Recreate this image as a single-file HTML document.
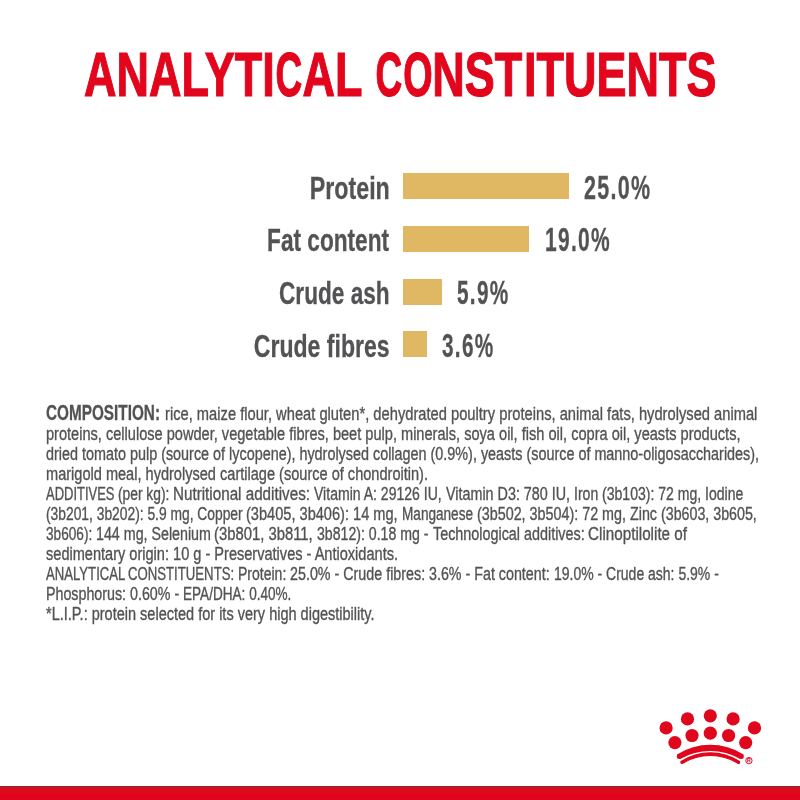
<!DOCTYPE html>
<html lang="en"><head><meta charset="utf-8"><title>Analytical Constituents</title>
<style>
html,body{margin:0;padding:0;background:#fff;}
body{width:800px;height:800px;position:relative;overflow:hidden;font-family:"Liberation Sans",Arial,Helvetica,sans-serif;}
.t{position:absolute;white-space:pre;line-height:1;display:block;margin:0;padding:0;}
.n{display:inline-block;}
.l{transform-origin:0 0;}
.r{transform-origin:100% 0;}
.bar{position:absolute;background:#e0b864;height:26px;left:403px;}
.foot{position:absolute;left:0;top:786px;width:800px;height:14px;background:#e2051c linear-gradient(to bottom,#93202a 0,#93202a 1px,#c01a28 1px,#c01a28 2px,#dc0a1c 2px,#dc0a1c 7px,#e0031f 9px,#e0031f 14px);}
</style></head><body>
<h1 id="t0" class="t l" style="font-size:63px;font-weight:700;color:#e2051c;top:42.97px;left:84.3px;transform:scaleX(0.7141);-webkit-text-stroke:1.2px #e2051c;word-spacing:1.5px;">ANALYTI<span class="n" style="transform:scaleX(.82);margin:0 -3.4px">C</span>AL <span class="n" style="transform:scaleX(.82);margin:0 -3.4px">C</span><span class="n" style="transform:scaleX(.84);margin:0 -3.9px">O</span>NS<span style="letter-spacing:2.5px">T</span>ITUENTS</h1>
<div id="t1" class="t r" style="font-size:31px;font-weight:700;color:#535355;top:172.76px;right:410.7px;transform:scaleX(0.7491);-webkit-text-stroke:0.3px #535355;">Protein</div>
<div id="t2" class="t l" style="font-size:32.3px;font-weight:700;color:#535355;top:171.56px;left:583.8px;transform:scaleX(0.6648);-webkit-text-stroke:0.3px #535355;letter-spacing:2px;">25.0%</div>
<div id="t3" class="t r" style="font-size:31px;font-weight:700;color:#535355;top:225.46px;right:410.7px;transform:scaleX(0.7303);-webkit-text-stroke:0.3px #535355;">Fat content</div>
<div id="t4" class="t l" style="font-size:32.3px;font-weight:700;color:#535355;top:224.26px;left:545.3px;transform:scaleX(0.6497);-webkit-text-stroke:0.3px #535355;letter-spacing:2px;">19.0%</div>
<div id="t5" class="t r" style="font-size:31px;font-weight:700;color:#535355;top:278.11px;right:410.7px;transform:scaleX(0.7295);-webkit-text-stroke:0.3px #535355;">Crude ash</div>
<div id="t6" class="t l" style="font-size:32.3px;font-weight:700;color:#535355;top:276.91px;left:457.3px;transform:scaleX(0.6430);-webkit-text-stroke:0.3px #535355;letter-spacing:2px;">5.9%</div>
<div id="t7" class="t r" style="font-size:31px;font-weight:700;color:#535355;top:330.76px;right:410.7px;transform:scaleX(0.7434);-webkit-text-stroke:0.3px #535355;">Crude fibres</div>
<div id="t8" class="t l" style="font-size:32.3px;font-weight:700;color:#535355;top:329.56px;left:441.8px;transform:scaleX(0.6430);-webkit-text-stroke:0.3px #535355;letter-spacing:2px;">3.6%</div>
<div id="t9" class="t l" style="font-size:21.5px;font-weight:700;color:#535355;top:402.90px;left:45.5px;transform:scaleX(0.7122);-webkit-text-stroke:0.3px #535355;">COMPOSITION:</div>
<div id="t10" class="t l" style="font-size:18.3px;font-weight:400;color:#535355;top:404.81px;left:164.6px;transform:scaleX(0.8041);-webkit-text-stroke:0.35px #535355;">rice, maize flour, wheat gluten*, dehydrated poultry proteins, animal fats, hydrolysed animal</div>
<div id="t11" class="t l" style="font-size:18.3px;font-weight:400;color:#535355;top:425.11px;left:45.5px;transform:scaleX(0.7975);-webkit-text-stroke:0.35px #535355;">proteins, cellulose powder, vegetable fibres, beet pulp, minerals, soya oil, fish oil, copra oil, yeasts products,</div>
<div id="t12" class="t l" style="font-size:18.3px;font-weight:400;color:#535355;top:445.01px;left:45.5px;transform:scaleX(0.7867);-webkit-text-stroke:0.35px #535355;">dried tomato pulp (source of lycopene), hydrolysed collagen (0.9%), yeasts (source of manno-oligosaccharides),</div>
<div id="t13" class="t l" style="font-size:18.3px;font-weight:400;color:#535355;top:465.01px;left:45.5px;transform:scaleX(0.7965);-webkit-text-stroke:0.35px #535355;">marigold meal, hydrolysed cartilage (source of chondroitin).</div>
<div id="t14" class="t l" style="font-size:18.3px;font-weight:400;color:#535355;top:485.01px;left:45.5px;transform:scaleX(0.7097);-webkit-text-stroke:0.35px #535355;">ADDITIVES </div>
<div id="t15" class="t l" style="font-size:18.3px;font-weight:400;color:#535355;top:485.01px;left:117.6px;transform:scaleX(0.7545);-webkit-text-stroke:0.35px #535355;">(per kg): </div>
<div id="t16" class="t l" style="font-size:18.3px;font-weight:400;color:#535355;top:485.01px;left:172.8px;transform:scaleX(0.8320);-webkit-text-stroke:0.35px #535355;">Nutritional additives: </div>
<div id="t17" class="t l" style="font-size:18.3px;font-weight:400;color:#535355;top:485.01px;left:314px;transform:scaleX(0.7678);-webkit-text-stroke:0.35px #535355;">Vitamin A: 29126 IU, </div>
<div id="t18" class="t l" style="font-size:18.3px;font-weight:400;color:#535355;top:485.01px;left:445.6px;transform:scaleX(0.7846);-webkit-text-stroke:0.35px #535355;">Vitamin D3: 780 IU, </div>
<div id="t19" class="t l" style="font-size:18.3px;font-weight:400;color:#535355;top:485.01px;left:573.7px;transform:scaleX(0.7677);-webkit-text-stroke:0.35px #535355;">Iron (3b103): 72 mg, Iodine</div>
<div id="t20" class="t l" style="font-size:18.3px;font-weight:400;color:#535355;top:504.91px;left:45.5px;transform:scaleX(0.7559);-webkit-text-stroke:0.35px #535355;">(3b201, 3b202): 5.9 mg, Copper </div>
<div id="t21" class="t l" style="font-size:18.3px;font-weight:400;color:#535355;top:504.91px;left:246px;transform:scaleX(0.7979);-webkit-text-stroke:0.35px #535355;">(3b405, 3b406): 14 mg, </div>
<div id="t22" class="t l" style="font-size:18.3px;font-weight:400;color:#535355;top:504.91px;left:401.7px;transform:scaleX(0.7434);-webkit-text-stroke:0.35px #535355;">Manganese </div>
<div id="t23" class="t l" style="font-size:18.3px;font-weight:400;color:#535355;top:504.91px;left:476.5px;transform:scaleX(0.7838);-webkit-text-stroke:0.35px #535355;">(3b502, 3b504): 72 mg, Zinc </div>
<div id="t24" class="t l" style="font-size:18.3px;font-weight:400;color:#535355;top:504.91px;left:660.5px;transform:scaleX(0.7789);-webkit-text-stroke:0.35px #535355;">(3b603, 3b605,</div>
<div id="t25" class="t l" style="font-size:18.3px;font-weight:400;color:#535355;top:524.91px;left:45.5px;transform:scaleX(0.7452);-webkit-text-stroke:0.35px #535355;">3b606): </div>
<div id="t26" class="t l" style="font-size:18.3px;font-weight:400;color:#535355;top:524.91px;left:95.5px;transform:scaleX(0.7800);-webkit-text-stroke:0.35px #535355;">144 mg, Selenium </div>
<div id="t27" class="t l" style="font-size:18.3px;font-weight:400;color:#535355;top:524.91px;left:214.4px;transform:scaleX(0.8112);-webkit-text-stroke:0.35px #535355;">(3b801, 3b811, </div>
<div id="t28" class="t l" style="font-size:18.3px;font-weight:400;color:#535355;top:524.91px;left:317.2px;transform:scaleX(0.7725);-webkit-text-stroke:0.35px #535355;">3b812): 0.18 mg - </div>
<div id="t29" class="t l" style="font-size:18.3px;font-weight:400;color:#535355;top:524.91px;left:432.6px;transform:scaleX(0.7857);-webkit-text-stroke:0.35px #535355;">Technological additives: </div>
<div id="t30" class="t l" style="font-size:18.3px;font-weight:400;color:#535355;top:524.91px;left:588.3px;transform:scaleX(0.8327);-webkit-text-stroke:0.35px #535355;">Clinoptilolite of</div>
<div id="t31" class="t l" style="font-size:18.3px;font-weight:400;color:#535355;top:544.91px;left:45.5px;transform:scaleX(0.7964);-webkit-text-stroke:0.35px #535355;">sedimentary origin: 10 g - Preservatives - Antioxidants.</div>
<div id="t32" class="t l" style="font-size:18.3px;font-weight:400;color:#535355;top:564.91px;left:45.5px;transform:scaleX(0.7186);-webkit-text-stroke:0.35px #535355;">ANALYTICAL </div>
<div id="t33" class="t l" style="font-size:18.3px;font-weight:400;color:#535355;top:564.91px;left:128px;transform:scaleX(0.7207);-webkit-text-stroke:0.35px #535355;">CONSTITUENTS: </div>
<div id="t34" class="t l" style="font-size:18.3px;font-weight:400;color:#535355;top:564.91px;left:237.8px;transform:scaleX(0.7666);-webkit-text-stroke:0.35px #535355;">Protein: </div>
<div id="t35" class="t l" style="font-size:18.3px;font-weight:400;color:#535355;top:564.91px;left:290px;transform:scaleX(0.7822);-webkit-text-stroke:0.35px #535355;">25.0% - Crude fibres: </div>
<div id="t36" class="t l" style="font-size:18.3px;font-weight:400;color:#535355;top:564.91px;left:429.1px;transform:scaleX(0.7810);-webkit-text-stroke:0.35px #535355;">3.6% - Fat content: </div>
<div id="t37" class="t l" style="font-size:18.3px;font-weight:400;color:#535355;top:564.91px;left:553.7px;transform:scaleX(0.7650);-webkit-text-stroke:0.35px #535355;">19.0% - Crude ash: 5.9% -</div>
<div id="t38" class="t l" style="font-size:18.3px;font-weight:400;color:#535355;top:584.81px;left:45.5px;transform:scaleX(0.7798);-webkit-text-stroke:0.35px #535355;">Phosphorus: 0.60% - </div>
<div id="t39" class="t l" style="font-size:18.3px;font-weight:400;color:#535355;top:584.81px;left:182.6px;transform:scaleX(0.7425);-webkit-text-stroke:0.35px #535355;">EPA/DHA: 0.40%.</div>
<div id="t40" class="t l" style="font-size:18.3px;font-weight:400;color:#535355;top:604.71px;left:45.5px;transform:scaleX(0.7937);-webkit-text-stroke:0.35px #535355;">*L.I.P.: protein selected for its very high digestibility.</div>
<div class="bar" style="top:173.25px;width:166.2px"></div>
<div class="bar" style="top:225.9px;width:126.2px"></div>
<div class="bar" style="top:278.6px;width:39.4px"></div>
<div class="bar" style="top:331.25px;width:23.8px"></div>
<svg width="800" height="800" viewBox="0 0 800 800" style="position:absolute;left:0;top:0;" role="img" aria-label="Royal Canin crown logo">
<circle cx="666.1" cy="727.9" r="6.6" fill="#e0061c"/>
<circle cx="687.5" cy="718.9" r="6.6" fill="#e0061c"/>
<circle cx="710.3" cy="715.8" r="6.6" fill="#e0061c"/>
<circle cx="733.1" cy="718.9" r="6.6" fill="#e0061c"/>
<circle cx="754.5" cy="727.9" r="6.6" fill="#e0061c"/>
<circle cx="674.9" cy="742.6" r="6.6" fill="#e0061c"/>
<circle cx="692.0" cy="735.5" r="6.6" fill="#e0061c"/>
<circle cx="710.3" cy="733.2" r="6.6" fill="#e0061c"/>
<circle cx="728.6" cy="735.5" r="6.6" fill="#e0061c"/>
<circle cx="745.7" cy="742.6" r="6.6" fill="#e0061c"/>
<path d="M677.9 755.0 A60.5 60.5 0 0 1 742.7 755.0 L740.4 758.0 A61.3 61.3 0 0 0 680.2 758.0 Z" fill="#e0061c" stroke="#e0061c" stroke-width="1.6" stroke-linejoin="round"/>
<path d="M681.1 761.5 A53.4 53.4 0 0 1 739.5 761.5 L738.0 763.2 A53.7 53.7 0 0 0 682.6 763.2 Z" fill="#e0061c" stroke="#e0061c" stroke-width="1.2" stroke-linejoin="round"/>
<circle cx="679.3" cy="756.6" r="2.5" fill="#e0061c"/>
<circle cx="741.3" cy="756.6" r="2.5" fill="#e0061c"/>
<circle cx="682.0" cy="762.4" r="1.6" fill="#e0061c"/>
<circle cx="738.6" cy="762.4" r="1.6" fill="#e0061c"/>
<circle cx="748.9" cy="760.6" r="3.2" fill="#fbe3e6" stroke="#e0061c" stroke-width="0.9"/>
<text x="748.9" y="762.4" font-family="Liberation Sans, Arial, sans-serif" font-size="5" font-weight="700" text-anchor="middle" fill="#e0061c">R</text>
</svg>
<div class="foot"></div>
</body></html>
